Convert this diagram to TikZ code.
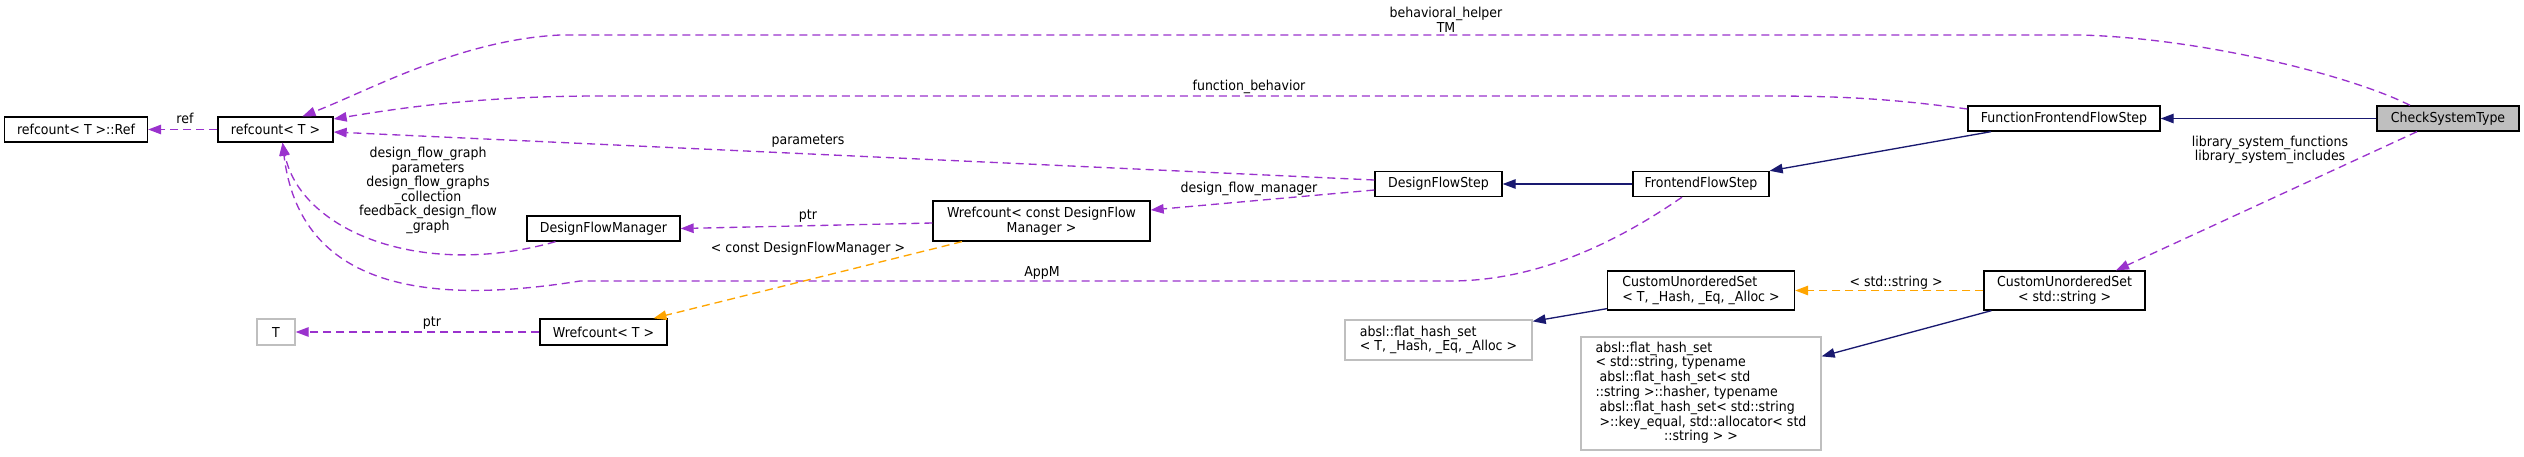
\documentclass[tikz,border=0pt]{standalone}
\usepackage{fontspec}
\setmainfont{DejaVu Sans}[FakeStretch=0.917]
\usetikzlibrary{arrows.meta}
\definecolor{orchid}{HTML}{9A32CD}
\definecolor{midblue}{HTML}{191970}
\definecolor{tmplorange}{HTML}{FFA500}
\definecolor{boxgray}{HTML}{BFBFBF}
\newcommand{\gvfont}{\fontsize{13.7pt}{14.6pt}\selectfont}

\begin{document}
\begin{tikzpicture}[x=1pt,y=-1pt,line width=1.33pt,>={Triangle[length=13pt,width=9.5pt]},
  cls/.style={draw=black,fill=white,inner sep=0pt,minimum height=25pt,font=\gvfont},
  ext/.style={cls,draw=boxgray},
  lbl/.style={inner sep=0pt,font=\gvfont,align=center},
  use/.style={->,orchid,dash pattern=on 8pt off 5pt},
  tmpl/.style={->,tmplorange,dash pattern=on 8pt off 5pt},
  inh/.style={->,midblue}]
  \useasboundingbox (0,0) rectangle (2524,456);
  % clases
  \node[cls,fill=boxgray,minimum width=142pt] (chk) at (2448,118.5) {CheckSystemType};
  \node[cls,minimum width=192pt] (ffs) at (2064,118.5) {FunctionFrontendFlowStep};
  \node[cls,minimum width=136pt] (fes) at (1701,184) {FrontendFlowStep};
  \node[cls,minimum width=127pt] (dfs) at (1438.5,184) {DesignFlowStep};
  \node[cls,minimum width=217pt,minimum height=40pt,align=center] (wdfm) at (1041.5,221) {Wrefcount< const DesignFlow\\Manager >};
  \node[cls,minimum width=153pt] (dfm) at (603.5,228.5) {DesignFlowManager};
  \node[cls,minimum width=115pt] (refc) at (275.5,129.5) {refcount< T >};
  \node[cls,minimum width=143pt] (ref) at (76,129.5) {refcount< T >::Ref};
  \node[cls,minimum width=127pt,minimum height=26pt] (wt) at (603.5,332) {Wrefcount< T >};
  \node[ext,minimum width=38pt,minimum height=26pt] (tt) at (276,332) {T};
  \node[cls,minimum width=187pt,minimum height=39pt,align=left] (cust) at (1701,290.5) {CustomUnorderedSet\\< T, \_Hash, \_Eq, \_Alloc >};
  \node[cls,minimum width=161pt,minimum height=39pt,align=center] (cuss) at (2064.5,290.5) {CustomUnorderedSet\\< std::string >};
  \node[ext,minimum width=187pt,minimum height=40pt,align=left] (abst) at (1438.5,340) {absl::flat\_hash\_set\\< T, \_Hash, \_Eq, \_Alloc >};
  \node[ext,minimum width=240pt,minimum height=113pt] (absb) at (1701,393.5) {\begin{tabular}{@{}l@{}}
    absl::flat\_hash\_set\\
    < std::string, typename\\
    \hspace*{4pt}absl::flat\_hash\_set< std\\
    ::string >::hasher, typename\\
    \hspace*{4pt}absl::flat\_hash\_set< std::string\\
    \hspace*{4pt}>::key\_equal, std::allocator< std\\
    \multicolumn{1}{@{}c@{}}{::string > >}
  \end{tabular}};
  % herencia
  \draw[inh] (chk.west) -- (ffs.east);
  \draw[inh] ([xshift=-73pt]ffs.south) -- (fes.north east);
  \draw[inh] (fes.west) -- (dfs.east);
  \draw[inh] ([yshift=2pt]cust.south west) -- ([yshift=-2pt]abst.north east);
  \draw[inh] ([xshift=8pt]cuss.south west) -- ([yshift=-20pt]absb.north east);
  % uso
  \draw[use] ([xshift=-38pt]chk.north) .. controls (2350,75) and (2200,38) .. (2080,35) -- (560,35) .. controls (460,40) and (370,90) .. ([xshift=27pt]refc.north);
  \node[lbl] (l-bh) at (1446,19.5) {behavioral\_helper\\TM};
  \draw[use] ([yshift=9.5pt]ffs.west) .. controls (1900,100) and (1850,96) .. (1770,96) -- (600,96) .. controls (480,96) and (400,108) .. ([yshift=10.5pt]refc.east);
  \node[lbl] (l-fb) at (1249,87) {function\_behavior};
  \draw[use] ([yshift=4pt]dfs.west) -- ([yshift=-2.5pt]refc.east);
  \node[lbl] (l-par) at (808,141) {parameters};
  \draw[use] ([yshift=-6pt]dfs.west) -- ([yshift=11pt]wdfm.east);
  \node[lbl] (l-dfm) at (1249,189) {design\_flow\_manager};
  \draw[use] ([yshift=-2pt]wdfm.west) -- (dfm.east);
  \node[lbl] (l-ptr) at (808,216) {ptr};
  \draw[use] ([xshift=-48pt]dfm.south) .. controls (420,280) and (300,230) .. ([xshift=7pt]refc.south);
  \node[lbl] (l-dfg) at (428,190.5) {design\_flow\_graph\\parameters\\design\_flow\_graphs\\\_collection\\feedback\_design\_flow\\\_graph};
  \draw[use] (refc.west) -- (ref.east);
  \node[lbl] (l-ref) at (185,118) {ref};
  \draw[use] ([xshift=-19pt]fes.south) .. controls (1620,240) and (1540,281) .. (1450,281) -- (580,281) .. controls (430,305) and (300,290) .. ([xshift=7pt]refc.south);
  \node[lbl] (l-appm) at (1042,273) {AppM};
  \draw[use] (wt.west) -- (tt.east);
  \node[lbl] (l-ptrt) at (432,323) {ptr};
  \draw[use] ([xshift=-31pt]chk.south) -- ([xshift=51.5pt]cuss.north);
  \node[lbl] (l-lib) at (2270,150) {library\_system\_functions\\library\_system\_includes};
  % plantillas
  \draw[tmpl] ([xshift=-79.5pt]wdfm.south) -- ([xshift=50pt]wt.north);
  \node[lbl] (l-cdfm) at (808,249) {< const DesignFlowManager >};
  \draw[tmpl] (cuss.west) -- (cust.east);
  \node[lbl] (l-str) at (1896,283) {< std::string >};
\end{tikzpicture}
\end{document}
